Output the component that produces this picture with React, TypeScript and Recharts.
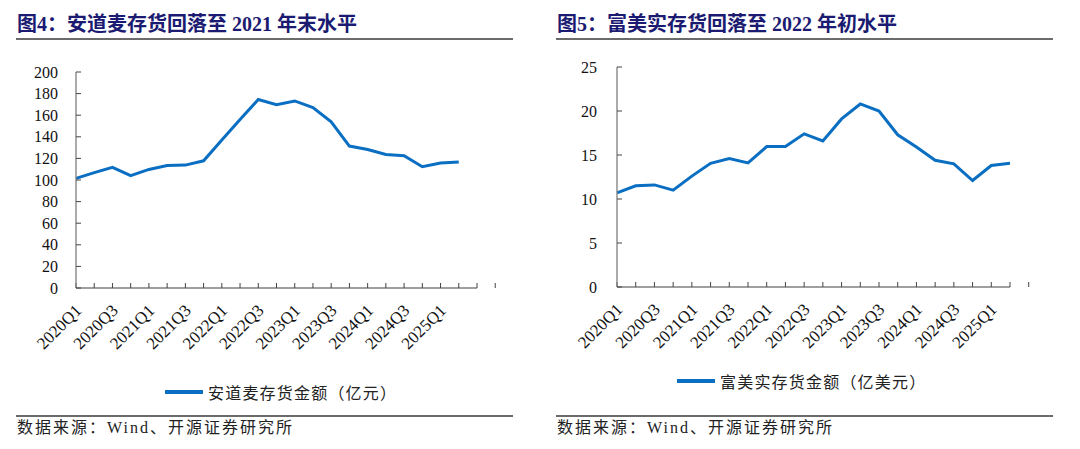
import React from 'react';
import { LineChart, Line, XAxis, YAxis } from 'recharts';

// ---------- data ----------
const quarters = [
  '2020Q1', '2020Q2', '2020Q3', '2020Q4',
  '2021Q1', '2021Q2', '2021Q3', '2021Q4',
  '2022Q1', '2022Q2', '2022Q3', '2022Q4',
  '2023Q1', '2023Q2', '2023Q3', '2023Q4',
  '2024Q1', '2024Q2', '2024Q3', '2024Q4',
  '2025Q1', '2025Q2',
];

// 安道麦存货金额（亿元）
const adamaInventory = [
  101.5, 106.8, 111.7, 104.0, 109.8, 113.5, 113.8, 117.8,
  137.0, 156.0, 174.5, 169.8, 173.2, 167.0, 153.8, 131.4,
  128.3, 123.7, 122.5, 112.3, 115.7, 116.6,
];

// 富美实存货金额（亿美元）
const fmcInventory = [
  10.7, 11.5, 11.6, 11.0, 12.6, 14.06, 14.6, 14.1,
  15.96, 15.96, 17.4, 16.6, 19.1, 20.8, 20.0, 17.3,
  15.9, 14.4, 14.0, 12.1, 13.8, 14.06,
];

const leftTicks = [0, 20, 40, 60, 80, 100, 120, 140, 160, 180, 200];
const rightTicks = [0, 5, 10, 15, 20, 25];

const leftTitle = '图4：安道麦存货回落至 2021 年末水平';
const rightTitle = '图5：富美实存货回落至 2022 年初水平';
const leftLegend = '安道麦存货金额（亿元）';
const rightLegend = '富美实存货金额（亿美元）';
const sourceText = '数据来源：Wind、开源证券研究所';

// ---------- derived tables ----------
// Left chart keeps one empty trailing quarter slot on its axis
const leftData = [
  ...quarters.map((q, i) => ({ q, v: adamaInventory[i] })),
  { q: '', v: null as number | null },
];
const rightData = quarters.map((q, i) => ({ q, v: fmcInventory[i] }));

const range = (n: number) => Array.from({ length: n + 1 }, (_, i) => i);

// ---------- styles ----------
const BLUE = '#0a6fc2';
const AXIS = '#7f7f7f';
const SERIF = '"Liberation Serif", "Times New Roman", "Noto Sans CJK SC", serif';
const CJK = '"Liberation Serif", "Noto Sans CJK SC", serif';

const RotTick = (props: any) => {
  const { x, y, payload } = props;
  return (
    <g transform={`translate(${x + 3},${y})`}>
      <text
        x={0}
        y={0}
        dy={5}
        textAnchor="end"
        transform="rotate(-45)"
        fontSize={17}
        fontFamily={SERIF}
        fill="#111"
      >
        {payload.value}
      </text>
    </g>
  );
};

const EmptyTick = () => <g />;

type PanelProps = {
  left: number;
  data: { q: string; v: number | null }[];
  yTicks: number[];
  yMax: number;
  marginTop: number;
  marginBottom: number;
  marginRight: number;
  yWidth: number;
  yGap: number;
  title: string;
  legend: string;
  legendTop: number;
  legendLeft: number;
};

const Panel = (p: PanelProps) => {
  const n = p.data.length;
  return (
    <>
      <div
        style={{
          position: 'absolute',
          left: p.left + 17,
          top: 13,
          fontFamily: CJK,
          fontWeight: 'bold',
          fontSize: 20,
          lineHeight: '22px',
          color: '#1b1b72',
          whiteSpace: 'nowrap',
        }}
      >
        {p.title}
      </div>
      <div
        style={{
          position: 'absolute',
          left: p.left + 16,
          top: 38,
          width: 497,
          height: 2,
          background: '#6b6b6b',
        }}
      />
      <div style={{ position: 'absolute', left: p.left, top: 0 }}>
        <LineChart
          width={540}
          height={449}
          data={p.data}
          margin={{ top: p.marginTop, right: p.marginRight, bottom: p.marginBottom, left: 0 }}
        >
          <XAxis
            xAxisId="a"
            type="number"
            domain={[0, n]}
            ticks={range(n)}
            interval={0}
            allowDataOverflow
            height={1}
            tick={<EmptyTick />}
            tickSize={-5}
            axisLine={{ stroke: AXIS, strokeWidth: 1.3 }}
            tickLine={{ stroke: '#444', strokeWidth: 1 }}
          />
          <XAxis
            xAxisId="b"
            dataKey="q"
            type="category"
            interval={1}
            height={60}
            axisLine={false}
            tickLine={false}
            tickSize={0}
            tickMargin={19}
            tick={<RotTick />}
          />
          <YAxis
            domain={[0, p.yMax]}
            ticks={p.yTicks}
            interval={0}
            width={p.yWidth}
            tickSize={-5}
            tickMargin={5 + p.yGap}
            axisLine={{ stroke: AXIS, strokeWidth: 1.3 }}
            tickLine={{ stroke: '#444', strokeWidth: 1 }}
            tick={{ fontSize: 16, fontFamily: SERIF, fill: '#111' }}
          />
          <Line
            xAxisId="b"
            dataKey="v"
            stroke={BLUE}
            strokeWidth={3}
            dot={false}
            activeDot={false}
            isAnimationActive={false}
          />
        </LineChart>
      </div>
      <div
        style={{
          position: 'absolute',
          left: p.left + p.legendLeft,
          top: p.legendTop - 11,
          height: 22,
          display: 'flex',
          alignItems: 'center',
          whiteSpace: 'nowrap',
        }}
      >
        <div style={{ width: 38, height: 4, background: BLUE, marginRight: 5 }} />
        <span style={{ fontFamily: CJK, fontSize: 16, letterSpacing: 1.2, color: '#222' }}>
          {p.legend}
        </span>
      </div>
      <div
        style={{
          position: 'absolute',
          left: p.left + 16,
          top: 415,
          width: 497,
          height: 2,
          background: '#6b6b6b',
        }}
      />
      <div
        style={{
          position: 'absolute',
          left: p.left + 17,
          top: 418,
          fontFamily: CJK,
          fontSize: 16,
          letterSpacing: 2,
          lineHeight: '20px',
          color: '#222',
          whiteSpace: 'nowrap',
        }}
      >
        {sourceText}
      </div>
    </>
  );
};

export default function App() {
  return (
    <div
      style={{
        position: 'absolute',
        left: 0,
        top: 0,
        width: 1080,
        height: 449,
        background: '#fff',
        overflow: 'hidden',
      }}
    >
      <Panel
        left={0}
        data={leftData}
        yTicks={leftTicks}
        yMax={200}
        marginTop={72}
        marginBottom={449 - 288 - 61}
        marginRight={63}
        yWidth={76}
        yGap={18}
        title={leftTitle}
        legend={leftLegend}
        legendTop={392}
        legendLeft={165}
      />
      <Panel
        left={540}
        data={rightData}
        yTicks={rightTicks}
        yMax={25}
        marginTop={67}
        marginBottom={449 - 287 - 61}
        marginRight={70}
        yWidth={77}
        yGap={20}
        title={rightTitle}
        legend={rightLegend}
        legendTop={381}
        legendLeft={137}
      />
    </div>
  );
}
